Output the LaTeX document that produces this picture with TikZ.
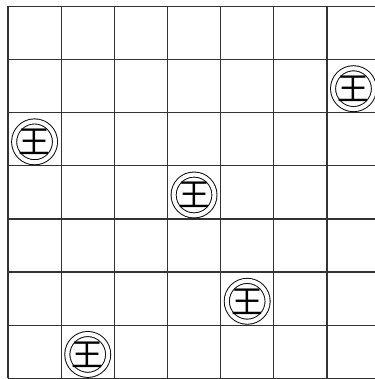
\documentclass[tikz,border=0pt]{standalone}
\usepackage{fontspec}
\newfontfamily\cjkfont{Noto Sans CJK JP}
\usetikzlibrary{positioning}
\tikzset{
  board/.style ={draw=black!80, line width=0.65pt},
  king/.style  ={circle, draw=black, line width=0.5pt, double=white,
                 double distance=2.2pt, minimum size=7.5mm, inner sep=0pt,
                 font=\cjkfont\fontsize{17}{17}\selectfont}
}
\begin{document}
\begin{tikzpicture}
  \useasboundingbox (-0.1505,0.1185) rectangle (6.886,-7.012);
  \draw[board] (0,-7) grid (7,0);

  \foreach \c/\r [count=\i] in {6/1,0/2,3/3,4/5,1/6}
    \node[king] (k\i) at (\c+0.5,-\r-0.55) {王};
\end{tikzpicture}
\end{document}
